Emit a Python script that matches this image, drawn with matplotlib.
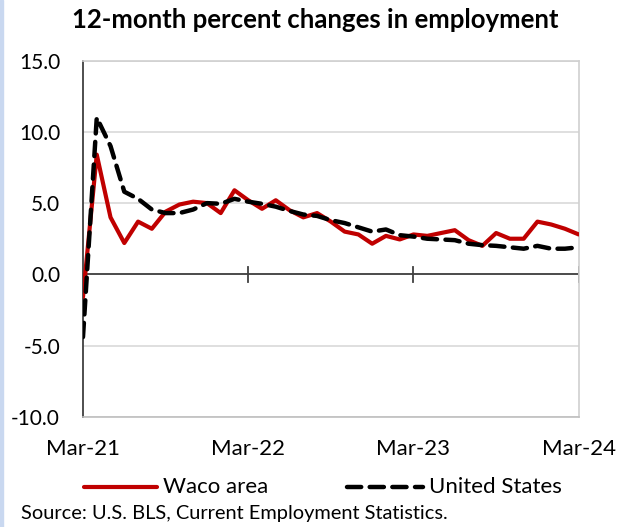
import matplotlib.pyplot as plt
import matplotlib.ticker as mticker
from matplotlib.lines import Line2D
from matplotlib.patches import Rectangle
import pandas as pd

plt.rcParams['font.family'] = ['Lato', 'DejaVu Sans']

months = pd.date_range("2021-03-01", "2024-03-01", freq="MS")

waco = [-1.6, 8.4, 4.0, 2.2, 3.7, 3.2, 4.4, 4.9, 5.1, 5.0, 4.3, 5.9,
        5.2, 4.6, 5.2, 4.5, 4.0, 4.3, 3.7, 3.0, 2.8, 2.15, 2.7, 2.45,
        2.8, 2.7, 2.9, 3.1, 2.4, 2.0, 2.9, 2.5, 2.5, 3.7, 3.5, 3.2, 2.8]

us = [-4.4, 11.0, 9.0, 5.8, 5.3, 4.55, 4.3, 4.3, 4.55, 5.0, 4.95, 5.3,
      5.1, 4.95, 4.75, 4.45, 4.2, 4.1, 3.8, 3.6, 3.3, 3.0, 3.15, 2.75,
      2.65, 2.5, 2.45, 2.4, 2.15, 2.05, 2.0, 1.9, 1.8, 2.0, 1.8, 1.8, 1.9]

tick_labels = ["Mar-21", "Mar-22", "Mar-23", "Mar-24"]
series_names = ["Waco area", "United States"]

RED = "#c00000"
US_DASH = (0, (3.2, 1.9))

fig = plt.figure(figsize=(6.17, 5.27), dpi=100)
ax = fig.add_axes([0.1345, 0.209, 0.8035, 0.676])

x = list(range(len(months)))
ax.plot(x, waco, color=RED, linewidth=3.0, solid_capstyle="round",
        solid_joinstyle="round", zorder=3)
ax.plot(x, us, color="black", linewidth=3.2, linestyle=US_DASH,
        dash_capstyle="round", zorder=4)

ax.set_xlim(0, 36)
ax.set_ylim(-10, 15)
ax.set_yticks([-10, -5, 0, 5, 10, 15])
ax.yaxis.set_major_formatter(mticker.FormatStrFormatter("%.1f"))
ax.tick_params(axis="y", length=0, pad=16.5, labelsize=15)
ax.grid(axis="y", color="#d9d9d9", linewidth=1.2, zorder=0)

# x labels sit below the plot area, tick marks cross the zero line
ax.set_xticks([0, 12, 24, 36])
ax.set_xticklabels(tick_labels)
ax.tick_params(axis="x", length=0, pad=16, labelsize=16)
ax.axhline(0, color="#404040", linewidth=1.3, zorder=2)
for t in [12, 24, 36]:
    ax.plot([t, t], [-0.55, 0.55], color="#404040", linewidth=1.3, zorder=2)

for s in ["top", "right"]:
    ax.spines[s].set_color("#d0d0d0")
    ax.spines[s].set_linewidth(1.2)
ax.spines["bottom"].set_color("#bfbfbf")
ax.spines["bottom"].set_linewidth(1.2)
ax.spines["left"].set_color("#404040")
ax.spines["left"].set_linewidth(1.3)

fig.text(0.511, 0.962, "12-month percent changes in employment",
         ha="center", va="center", fontsize=18.5, fontweight="bold")

# legend drawn by hand in figure coordinates
ly = 1 - 487 / 527
fig.add_artist(Line2D([84 / 617, 157 / 617], [ly, ly], color=RED, linewidth=3.0,
                      solid_capstyle="round", transform=fig.transFigure))
fig.text(163 / 617, ly, series_names[0], ha="left", va="center", fontsize=16)
fig.add_artist(Line2D([347 / 617, 423 / 617], [ly, ly], color="black", linewidth=3.2,
                      linestyle=US_DASH, dash_capstyle="round",
                      transform=fig.transFigure))
fig.text(429 / 617, ly, series_names[1], ha="left", va="center", fontsize=16)

fig.text(21 / 617, 1 - 514 / 527, "Source: U.S. BLS, Current Employment Statistics.",
         ha="left", va="center", fontsize=14.4)

fig.patches.append(Rectangle((0, 0), 0.005, 1, transform=fig.transFigure,
                             color="#c9d8f0", zorder=0))

fig.savefig("out.png", dpi=100)
